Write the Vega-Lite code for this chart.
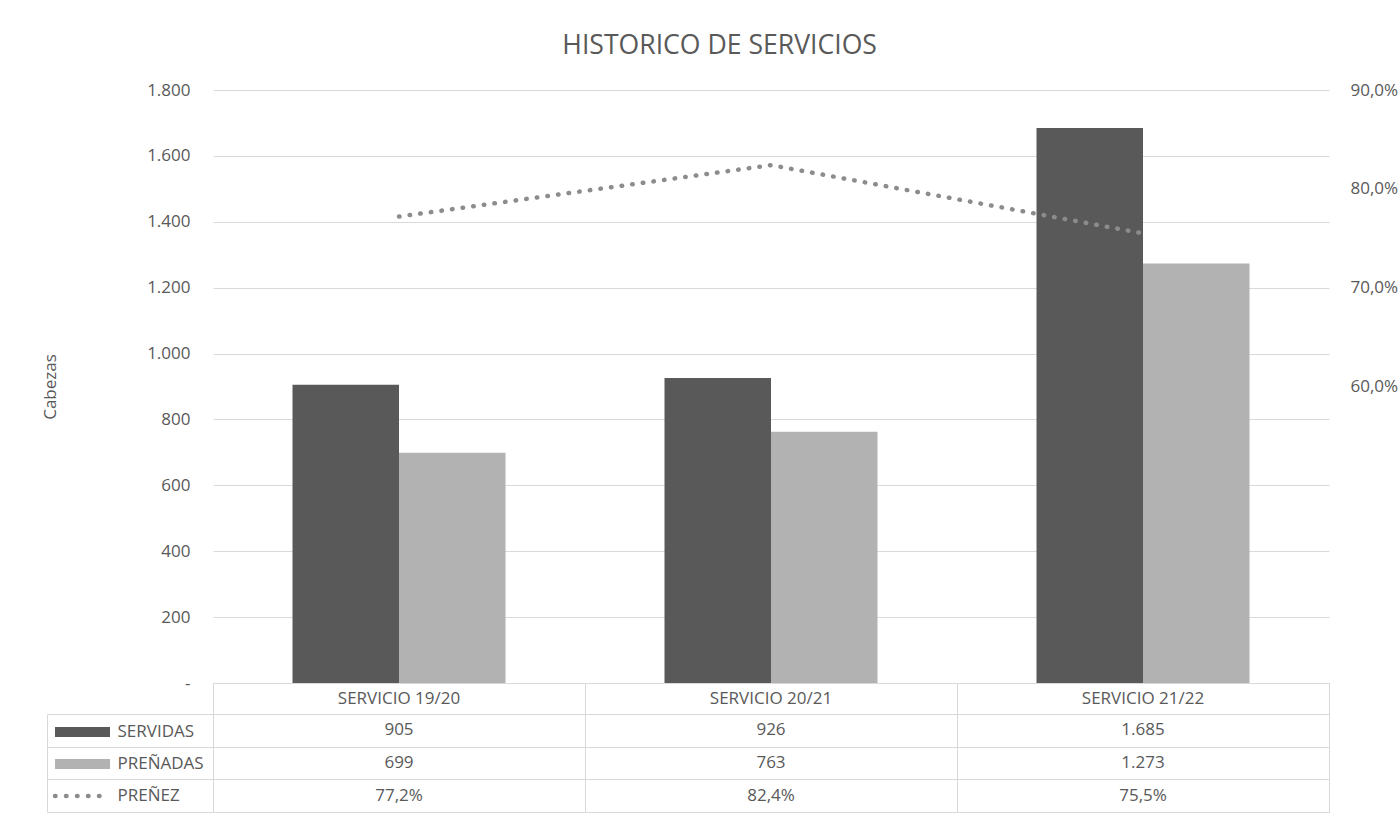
{
  "$schema": "https://vega.github.io/schema/vega-lite/v6.json",
  "padding": {"left": 41, "top": 33, "right": 0, "bottom": 4},
  "background": "white",
  "title": {"text": "HISTORICO DE SERVICIOS", "fontSize": 26.6, "font": "Open Sans", "fontWeight": "normal", "color": "#595959", "anchor": "middle", "offset": 21},
  "config": {
    "font": "Open Sans",
    "locale": {"number": {"decimal": ",", "thousands": ".", "grouping": [3], "currency": ["", " €"]}},
    "view": {"stroke": null},
    "axis": {"labelFont": "Open Sans", "labelFontSize": 17, "labelColor": "#595959", "titleFont": "Open Sans", "titleFontSize": 17, "titleColor": "#595959", "titleFontWeight": "normal", "gridColor": "#d9d9d9", "domainColor": "#d9d9d9", "tickColor": "#d9d9d9"}
  },
  "datasets": {
    "d": [
      {"categoria": "SERVICIO 19/20", "serie": "SERVIDAS", "valor": 905},
      {"categoria": "SERVICIO 20/21", "serie": "SERVIDAS", "valor": 926},
      {"categoria": "SERVICIO 21/22", "serie": "SERVIDAS", "valor": 1685},
      {"categoria": "SERVICIO 19/20", "serie": "PREÑADAS", "valor": 699},
      {"categoria": "SERVICIO 20/21", "serie": "PREÑADAS", "valor": 763},
      {"categoria": "SERVICIO 21/22", "serie": "PREÑADAS", "valor": 1273},
      {"categoria": "SERVICIO 19/20", "serie": "PREÑEZ", "valor": 0.772},
      {"categoria": "SERVICIO 20/21", "serie": "PREÑEZ", "valor": 0.824},
      {"categoria": "SERVICIO 21/22", "serie": "PREÑEZ", "valor": 0.755}
    ]
  },
  "data": {"name": "d"},
  "bounds": "flush",
  "spacing": 0,
  "resolve": {"scale": {"x": "independent", "y": "independent"}},
  "vconcat": [
    {
      "width": 1116,
      "height": 593,
      "layer": [
        {
          "transform": [{"filter": "datum.serie != 'PREÑEZ'"}],
          "mark": {"type": "bar"},
          "encoding": {
            "x": {"field": "categoria", "type": "nominal", "sort": null,
              "scale": {"paddingInner": 0.4274, "paddingOuter": 0.2137},
              "axis": null},
            "xOffset": {"field": "serie", "type": "nominal", "sort": null, "scale": {"domain": ["SERVIDAS", "PREÑADAS"], "paddingInner": 0, "paddingOuter": 0}},
            "y": {"field": "valor", "type": "quantitative", "scale": {"domain": [0, 1800]},
              "axis": {"values": [0, 200, 400, 600, 800, 1000, 1200, 1400, 1600, 1800], "format": ",d", "labelExpr": "datum.value == 0 ? '-' : datum.label", "ticks": false, "domain": false, "grid": true, "labelPadding": 23, "title": "Cabezas", "titlePadding": 87}},
            "color": {"field": "serie", "type": "nominal",
              "scale": {"domain": ["SERVIDAS", "PREÑADAS", "PREÑEZ"], "range": ["#595959", "#b2b2b2", "#8c8c8c"]},
              "legend": {
                "orient": "none", "legendX": -158, "legendY": 633.5, "title": null, "padding": 0,
                "symbolSize": 100, "symbolStrokeWidth": 4.5, "symbolOffset": 19, "labelOffset": 26.5,
                "labelFontSize": 17, "labelColor": "#595959", "labelFont": "Open Sans", "rowPadding": 14,
                "encode": {"symbols": {"update": {
                  "shape": {"signal": "datum.value == 'PREÑEZ' ? 'M-5.5,0H5.5' : 'M-5.5,-1H5.5V1H-5.5Z'"},
                  "size": {"value": 100},
                  "fill": {"signal": "datum.value == 'SERVIDAS' ? '#595959' : datum.value == 'PREÑADAS' ? '#b2b2b2' : 'transparent'"},
                  "stroke": {"signal": "datum.value == 'PREÑEZ' ? '#8c8c8c' : 'transparent'"},
                  "strokeWidth": {"signal": "datum.value == 'PREÑEZ' ? 4.5 : 0"},
                  "strokeDash": {"signal": "datum.value == 'PREÑEZ' ? [0.5, 10.5] : [1, 0]"},
                  "strokeCap": {"value": "round"},
                  "opacity": {"value": 1}
                }}}
              }}
          }
        },
        {
          "transform": [{"filter": "datum.serie == 'PREÑEZ'"}],
          "mark": {"type": "line", "strokeDash": [0.5, 10.2], "strokeCap": "round", "strokeWidth": 4.5},
          "encoding": {
            "x": {"field": "categoria", "type": "nominal", "sort": null},
            "y": {"field": "valor", "type": "quantitative", "scale": {"domain": [0.3, 0.9]},
              "axis": {"orient": "right", "values": [0.6, 0.7, 0.8, 0.9], "format": ".1%", "grid": false, "ticks": false, "domain": false, "labelPadding": 21, "title": null}},
            "color": {"datum": "PREÑEZ"}
          }
        }
      ],
      "resolve": {"scale": {"y": "independent"}}
    },
    {
      "width": 1116,
      "height": 31,
      "view": {"stroke": "#d9d9d9"},
      "transform": [{"filter": "datum.serie == 'SERVIDAS'"}],
      "mark": {"type": "text", "fontSize": 17, "color": "#595959", "font": "Open Sans"},
      "encoding": {
        "x": {"field": "categoria", "type": "nominal", "sort": null, "scale": {"paddingInner": 0, "paddingOuter": 0},
          "axis": {"title": null, "labels": false, "ticks": false, "domain": false, "grid": true, "tickBand": "extent", "orient": "top"}},
        "text": {"field": "categoria", "type": "nominal"}
      }
    },
    {
      "width": 1116,
      "height": 98,
      "view": {"stroke": "#d9d9d9"},
      "layer": [
        {
          "transform": [{"filter": "datum.serie != 'PREÑEZ'"}],
          "mark": {"type": "text", "fontSize": 17, "color": "#595959", "font": "Open Sans"},
          "encoding": {
            "x": {"field": "categoria", "type": "nominal", "sort": null, "scale": {"paddingInner": 0, "paddingOuter": 0},
              "axis": {"title": null, "labels": false, "ticks": false, "domain": false, "grid": true, "tickBand": "extent", "orient": "top"}},
            "y": {"field": "serie", "type": "nominal", "scale": {"domain": ["SERVIDAS", "PREÑADAS", "PREÑEZ"], "paddingInner": 0, "paddingOuter": 0},
              "axis": {"title": null, "labels": false, "ticks": true, "tickSize": 166, "tickBand": "extent", "domain": false, "grid": true}},
            "text": {"field": "valor", "type": "quantitative", "format": ",d"}
          }
        },
        {
          "transform": [{"filter": "datum.serie == 'PREÑEZ'"}],
          "mark": {"type": "text", "fontSize": 17, "color": "#595959", "font": "Open Sans"},
          "encoding": {
            "x": {"field": "categoria", "type": "nominal", "sort": null},
            "y": {"field": "serie", "type": "nominal",
              "axis": {"orient": "left", "offset": 166, "title": null, "labels": false, "ticks": false, "domain": true, "grid": false}},
            "text": {"field": "valor", "type": "quantitative", "format": ".1%"}
          }
        }
      ],
      "resolve": {"axis": {"y": "independent"}}
    }
  ]
}
